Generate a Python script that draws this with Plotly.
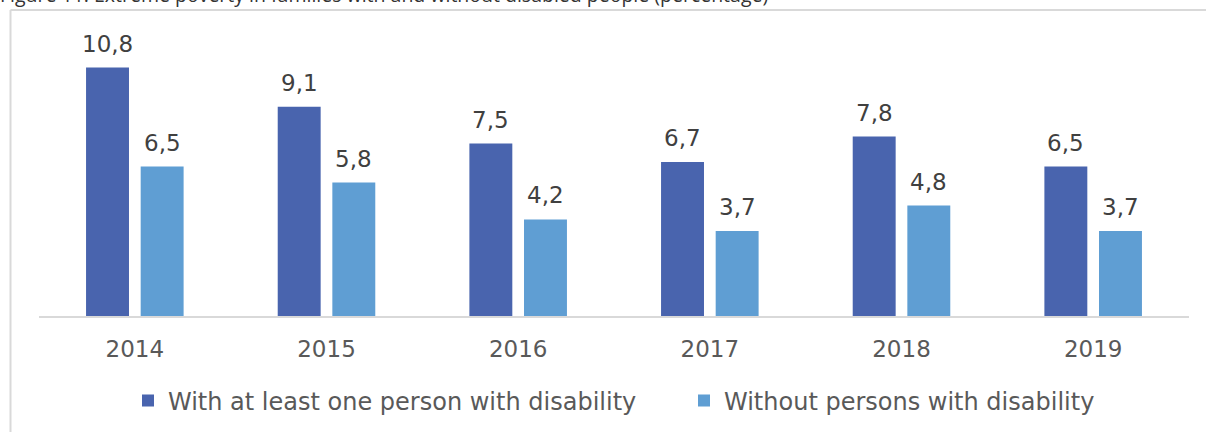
import plotly.graph_objects as go

years = ["2014", "2015", "2016", "2017", "2018", "2019"]
with_disability = [10.8, 9.1, 7.5, 6.7, 7.8, 6.5]
without_disability = [6.5, 5.8, 4.2, 3.7, 4.8, 3.7]
series_names = ["With at least one person with disability", "Without persons with disability"]
colors = ["#4964AE", "#5F9ED3"]
title_text = "Figure 11. Extreme poverty in families with and without disabled people (percentage)"

L, R, T, B = 39, 17, 40, 116
W, H = 1206, 432
pw, ph = W - L - R, H - T - B

def px_x(p):
    return (p - L) / pw

def px_y(p):
    return (H - B - p) / ph

fig = go.Figure()
legend_ids = ["legend", "legend2"]
for name, vals, col, lg in zip(series_names, [with_disability, without_disability], colors, legend_ids):
    fig.add_trace(go.Bar(x=years, y=vals, name=name, legend=lg,
                         marker=dict(color=col, line=dict(width=0))))

def fmt(v):
    return f"{v:.1f}".replace(".", ",")

annotations = []
for vals, shift in [(with_disability, -27.4), (without_disability, 27.4)]:
    for i, v in enumerate(vals):
        annotations.append(dict(x=i, y=v, xref="x", yref="y", text=fmt(v), showarrow=False,
                                xshift=shift, yshift=24, yanchor="middle",
                                font=dict(family="DejaVu Sans", size=23, color="#404040")))

annotations.append(dict(x=px_x(-2), y=px_y(10), xref="paper", yref="paper", text=title_text,
                        showarrow=False, xanchor="left", yanchor="bottom",
                        font=dict(family="Open Sans", size=19.5, color="#333333")))

border = "#D9D9D9"
shapes = [
    dict(type="line", xref="paper", yref="paper", x0=px_x(10.5), x1=px_x(1210), y0=px_y(10), y1=px_y(10),
         line=dict(color=border, width=2)),
    dict(type="line", xref="paper", yref="paper", x0=px_x(10.5), x1=px_x(10.5), y0=px_y(10), y1=px_y(440),
         line=dict(color=border, width=2)),
]

legend_font = dict(family="DejaVu Sans", size=24, color="#595959")

fig.update_layout(
    width=W, height=H,
    margin=dict(l=L, r=R, t=T, b=B, autoexpand=False),
    paper_bgcolor="white", plot_bgcolor="white",
    barmode="group", bargap=0.43, bargroupgap=0.214,
    showlegend=True,
    legend=dict(orientation="h", x=px_x(128), xanchor="left", y=px_y(401), yanchor="middle",
                font=legend_font, itemwidth=30),
    legend2=dict(orientation="h", x=px_x(684), xanchor="left", y=px_y(401), yanchor="middle",
                 font=legend_font, itemwidth=30),
    annotations=annotations,
    shapes=shapes,
    xaxis=dict(type="category", range=[-0.5, len(years) - 0.5], showline=True, linecolor=border,
               linewidth=2, ticks="", showgrid=False,
               tickfont=dict(family="DejaVu Sans", size=23, color="#595959"),
               ticklabelstandoff=11),
    yaxis=dict(range=[0, 12], visible=False, showgrid=False, zeroline=False),
)

fig.write_html("out.html", config={"displayModeBar": False},
               post_script="document.body.style.margin='0';")
